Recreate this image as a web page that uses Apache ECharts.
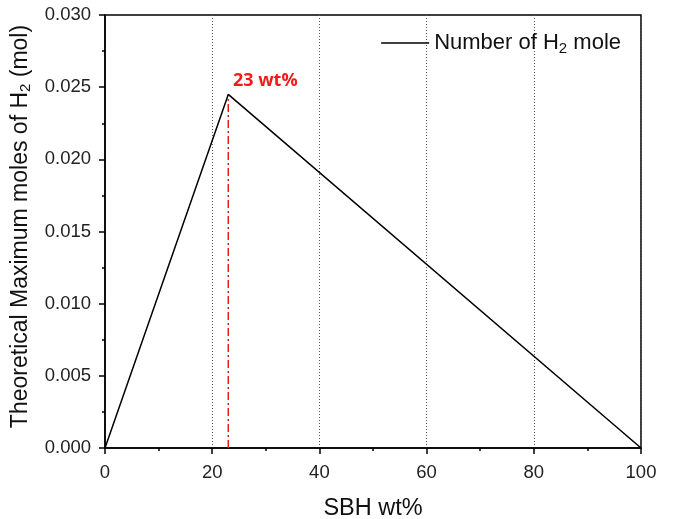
<!DOCTYPE html>
<html><head><meta charset="utf-8">
<script src="https://cdn.jsdelivr.net/npm/echarts@6/dist/echarts.min.js"></script>
<style>html,body{margin:0;padding:0;background:#fff}#c{width:673px;height:519px}</style>
</head><body><div id="c"></div>
<script>
const sbhWt = [0, 23, 100];
const h2Moles = [0, 0.0245, 0];
const peakWt = 23;
const peakMoles = 0.0245;
const peakLabel = '23 wt%';
const xTicks = [0, 20, 40, 60, 80, 100];

const chart = echarts.init(document.getElementById('c'), null, {renderer: 'canvas'});
const font = 'Liberation Sans, Arial, sans-serif';
chart.setOption({
  animation: false,
  backgroundColor: '#fff',
  grid: {left: 105, right: 32, top: 15, bottom: 71, containLabel: false, outerBoundsMode: 'none',
    show: true, borderColor: '#000', borderWidth: 1.5, backgroundColor: 'transparent'},
  legend: {
    top: 27, right: 47, itemWidth: 48, itemHeight: 14, itemGap: 8,
    icon: 'path://M0,6 L48,6 L48,7.5 L0,7.5 Z',
    data: [{name: 'Number of H2 mole', itemStyle: {color: '#000'}}],
    formatter: () => '{a|Number of H}{s|2}{a| mole}',
    textStyle: {
      rich: {
        a: {fontFamily: font, fontSize: 22, color: '#111'},
        s: {fontFamily: font, fontSize: 15, color: '#111', padding: [12, 0, 0, 0]}
      }
    }
  },
  xAxis: {
    type: 'value', min: 0, max: 100, interval: 20,
    name: 'SBH wt%', nameLocation: 'middle', nameGap: 49,
    nameTextStyle: {fontFamily: font, fontSize: 23.5, color: '#111'},
    axisLine: {show: true, lineStyle: {color: '#000', width: 1.5}},
    axisTick: {show: true, inside: false, length: 6, lineStyle: {color: '#000', width: 1.5}},
    minorTick: {show: true, splitNumber: 2, length: 3, lineStyle: {color: '#000', width: 1.5}},
    axisLabel: {fontFamily: font, fontSize: 18.5, color: '#222', margin: 15,
      formatter: v => xTicks.includes(v) ? String(v) : ''},
    splitLine: {show: true, lineStyle: {color: '#555', width: 1, type: [1, 2]}}
  },
  yAxis: {
    type: 'value', min: 0, max: 0.03, interval: 0.005,
    name: '{a|Theoretical Maximum moles of H}{s|2}{a| (mol)}',
    nameLocation: 'middle', nameGap: 70, nameRotate: 90,
    nameTextStyle: {
      padding: [0, 0, 0, 10],
      rich: {
        a: {fontFamily: font, fontSize: 23, color: '#111'},
        s: {fontFamily: font, fontSize: 15, color: '#111', padding: [12, 0, 0, 0]}
      }
    },
    axisLine: {show: true, lineStyle: {color: '#000', width: 1.5}},
    axisTick: {show: true, inside: false, length: 6, lineStyle: {color: '#000', width: 1.5}},
    minorTick: {show: true, splitNumber: 2, length: 3, lineStyle: {color: '#000', width: 1.5}},
    axisLabel: {fontFamily: font, fontSize: 18.5, color: '#222', margin: 14, formatter: v => v.toFixed(3)},
    splitLine: {show: false}
  },
  series: [
    {
      name: 'Number of H2 mole', type: 'line', symbol: 'none',
      data: sbhWt.map((x, i) => [x, h2Moles[i]]),
      lineStyle: {color: '#000', width: 1.5}, z: 5
    },
    {
      name: 'peak', type: 'line', symbol: 'circle', symbolSize: 0, showSymbol: true,
      data: [[peakWt, 0], {value: [peakWt, peakMoles], label: {show: true}}],
      lineStyle: {color: '#e8191c', width: 1.5, type: [8, 3, 2, 3]},
      itemStyle: {color: '#e8191c'},
      label: {show: false, position: 'top', distance: 5, offset: [37, 0],
        formatter: peakLabel, fontFamily: 'Open Sans, Noto Sans, sans-serif', fontWeight: 'bold', fontSize: 18, color: '#f01c1c'},
      z: 4
    }
  ]
});
</script></body></html>
